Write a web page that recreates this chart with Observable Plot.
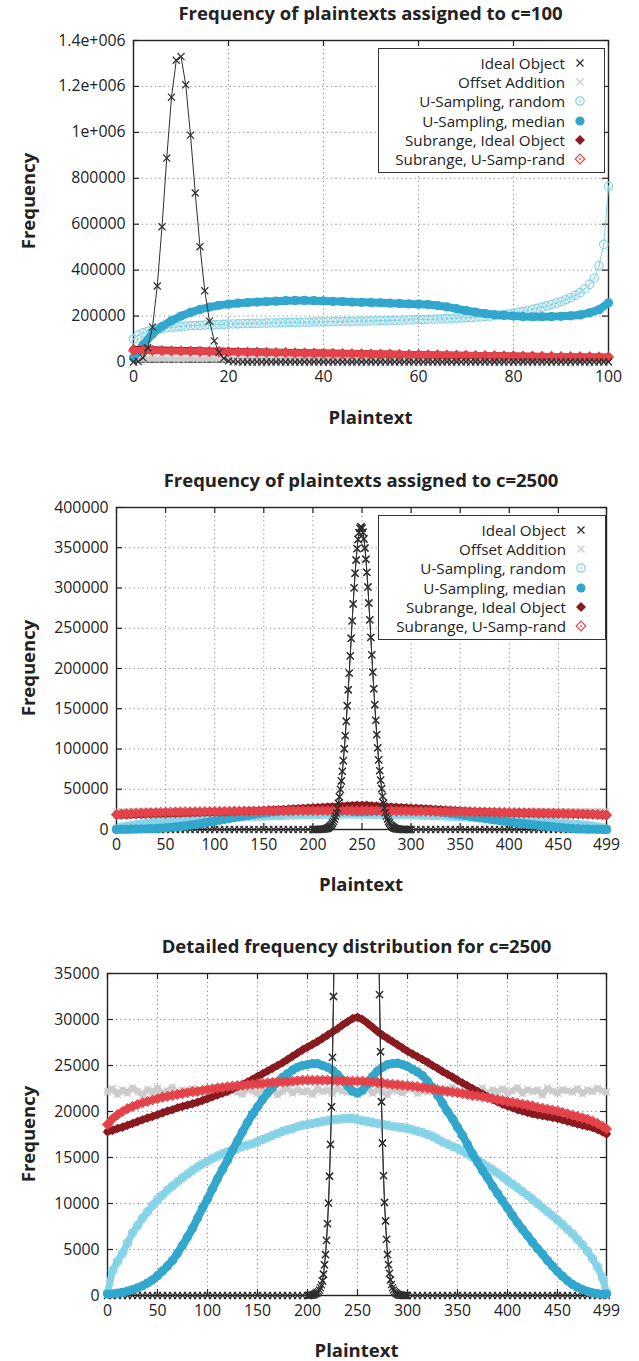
<!DOCTYPE html>
<html>
<head>
<meta charset="utf-8">
<script src="https://cdn.jsdelivr.net/npm/d3@7"></script>
<script src="https://cdn.jsdelivr.net/npm/@observablehq/plot@0.6"></script>
<style>
  body { margin: 0; background: #fff; }
  #root { position: relative; width: 639px; height: 1361px; font-family: "Open Sans", sans-serif; color: #222; overflow: hidden; }
  .title { position: absolute; font-weight: 700; font-size: 18.5px; white-space: nowrap; transform: translate(-50%, -50%); }
  .xlabel { position: absolute; font-weight: 700; font-size: 18.5px; white-space: nowrap; transform: translate(-50%, -50%); }
  .ylabel { position: absolute; font-weight: 700; font-size: 18.5px; white-space: nowrap; transform: translate(-50%, -50%) rotate(-90deg); }
  .legend { position: absolute; background: #fff; border: 1.3px solid #333; box-sizing: border-box; font-size: 15.2px; }
  .lrow { position: absolute; right: 17px; height: 18px; display: flex; align-items: center; white-space: nowrap; }
  .lrow span { display: inline-block; margin-right: 8px; line-height: 18px; height: 18px; overflow: visible; }
  .lrow svg { display: block; }
</style>
</head>
<body>
<div id="root"></div>
<script>
// ---------------- DATA ----------------
const seriesNames = ["Ideal Object", "Offset Addition", "U-Sampling, random", "U-Sampling, median", "Subrange, Ideal Object", "Subrange, U-Samp-rand"];
const seriesColors = ["#2e2e2e", "#cccccc", "#86d3e7", "#32a7cd", "#8a1a1f", "#e4434b"];

const titles = ["Frequency of plaintexts assigned to c=100", "Frequency of plaintexts assigned to c=2500", "Detailed frequency distribution for c=2500"];
const xAxisLabel = "Plaintext";
const yAxisLabel = "Frequency";

// Panel 1 (c=100) ticks
const p1XTicks = [0, 20, 40, 60, 80, 100];
const p1XTickLabels = ["0", "20", "40", "60", "80", "100"];
const p1YTicks = [0, 200000, 400000, 600000, 800000, 1000000, 1200000, 1400000];
const p1YTickLabels = ["0", "200000", "400000", "600000", "800000", "1e+006", "1.2e+006", "1.4e+006"];

// Panel 2/3 ticks
const p2XTicks = [0, 50, 100, 150, 200, 250, 300, 350, 400, 450, 499];
const p2XTickLabels = ["0", "50", "100", "150", "200", "250", "300", "350", "400", "450", "499"];
const p2YTicks = [0, 50000, 100000, 150000, 200000, 250000, 300000, 350000, 400000];
const p2YTickLabels = ["0", "50000", "100000", "150000", "200000", "250000", "300000", "350000", "400000"];
const p3YTicks = [0, 5000, 10000, 15000, 20000, 25000, 30000, 35000];
const p3YTickLabels = ["0", "5000", "10000", "15000", "20000", "25000", "30000", "35000"];

// Panel 1 plaintext positions
const p1X = d3.range(0, 101);      // every plaintext 0..100
const p1X2 = d3.range(0, 101, 2);  // every second plaintext

const p1Ideal = [
  0, 2000, 18000, 62000, 152000, 331000, 589000, 888000, 1153000, 1314000,
  1330000, 1207000, 988000, 736000, 502000, 310000, 178000, 92000, 42000, 16000,
  5000, 1500, 400, 100, 0, 0, 0, 0, 0, 0,
  0, 0, 0, 0, 0, 0, 0, 0, 0, 0,
  0, 0, 0, 0, 0, 0, 0, 0, 0, 0,
  0, 0, 0, 0, 0, 0, 0, 0, 0, 0,
  0, 0, 0, 0, 0, 0, 0, 0, 0, 0,
  0, 0, 0, 0, 0, 0, 0, 0, 0, 0,
  0, 0, 0, 0, 0, 0, 0, 0, 0, 0,
  0, 0, 0, 0, 0, 0, 0, 0, 0, 0,
  0
];
const p1Offset = [
  13500, 12200, 14100, 12800, 13300, 11900, 13800, 12500, 14000, 12700,
  13100, 12100, 13600, 12900, 12300, 13900, 12600, 13200, 11800, 13700,
  12400, 13400, 12000, 14200, 12800, 13000, 12200, 13500, 12600, 13300,
  11900, 13800, 12500, 13100, 12900, 12300, 13600, 12100, 14000, 12700,
  13200, 12400, 13700, 12000, 13400, 12800, 12600, 13900, 12200, 13300,
  12900
];
const p1URandom = [
  100000, 117000, 127000, 134000, 139000, 143000, 146000, 149000, 151000, 153000,
  155000, 156500, 158000, 159000, 160000, 161000, 162000, 162800, 163500, 164200,
  165000, 165600, 166200, 166800, 167400, 168000, 168500, 169000, 169500, 170000,
  170500, 171000, 171500, 172000, 172500, 173000, 173400, 173800, 174200, 174600,
  175000, 175400, 175800, 176200, 176600, 177000, 177400, 177800, 178200, 178600,
  179000, 179500, 180000, 180500, 181000, 181500, 182000, 182600, 183200, 183800,
  184400, 185000, 185700, 186400, 187100, 187900, 188700, 189600, 190500, 191500,
  192600, 193800, 195100, 196500, 198000, 199600, 201500, 204000, 206500, 209000,
  212000, 216000, 220000, 224500, 229000, 234000, 239000, 244500, 250000, 256500,
  263000, 271000, 280000, 290000, 302000, 318000, 338000, 365000, 420000, 512000,
  765000
];
const p1UMedian = [
  18000, 75000, 122000, 155000, 180000, 200000, 216000, 229000, 239000, 247000,
  252000, 256000, 259000, 261000, 263000, 265000, 267000, 268000, 268000, 267000,
  266000, 264000, 263000, 261000, 260000, 259000, 258000, 256000, 255000, 253000,
  252000, 250000, 246000, 240000, 232000, 224000, 217000, 211000, 206000, 203000,
  200000, 198000, 197000, 197000, 198000, 199000, 201000, 205000, 214000, 228000,
  258000
];
const p1SubIdeal = [
  56000, 54500, 53500, 52500, 51500, 50600, 49800, 49000, 48200, 47400,
  46600, 45800, 45000, 44300, 43600, 42900, 42200, 41500, 40800, 40100,
  39400, 38700, 38000, 37300, 36600, 35900, 35200, 34500, 33800, 33100,
  32400, 31700, 31000, 30300, 29700, 29100, 28500, 27900, 27300, 26700,
  26100, 25500, 24900, 24300, 23800, 23300, 22800, 22300, 21800, 21300,
  20800
];
const p1SubRand = [
  50500, 49600, 48900, 48200, 47500, 46900, 46300, 45700, 45100, 44500,
  43900, 43300, 42700, 42100, 41500, 40900, 40300, 39700, 39100, 38500,
  37900, 37300, 36700, 36100, 35500, 34900, 34300, 33700, 33100, 32500,
  31900, 31300, 30700, 30100, 29500, 28900, 28300, 27800, 27300, 26800,
  26300, 25800, 25300, 24800, 24300, 23800, 23400, 23000, 22600, 22300,
  22000
];

// Panel 2/3 (c=2500) plaintext positions
const p2X = [...d3.range(0, 500, 5), 499];
const p2IdealX = [...d3.range(0, 200, 5), ...d3.range(200, 301), ...d3.range(305, 500, 5), 499];

const p2Ideal = [
  // 0..195 step 5
  0, 0, 0, 0, 0, 0, 0, 0, 0, 0, 0, 0, 0, 0, 0, 0, 0, 0, 0, 0,
  0, 0, 0, 0, 0, 0, 0, 0, 0, 0, 0, 0, 0, 0, 0, 0, 0, 0, 0, 0,
  // 200..300 step 1
  0, 0, 10, 20, 40, 60, 90, 130, 190, 270,
  300, 420, 600, 850, 1150, 1600, 2310, 3340, 4450, 5990,
  7810, 10040, 12960, 16420, 20510, 25880, 32500, 40500, 49800, 60300,
  72200, 85500, 100300, 116600, 134400, 153700, 173600, 194300, 215700, 237500,
  259200, 280200, 300100, 318400, 334800, 348900, 360300, 368800, 374100, 376000,
  374300, 369200, 360900, 349700, 335700, 319400, 301200, 281300, 260400, 238700,
  216900, 195500, 174800, 155000, 135600, 117800, 101400, 86500, 73100, 61300,
  50900, 41200, 32700, 26500, 21060, 16570, 13030, 10110, 8100, 6100,
  4450, 3360, 2400, 1700, 1200, 850, 600, 420, 300, 210,
  140, 90, 60, 40, 20, 10, 0, 0, 0, 0, 0,
  // 305..495 step 5, then 499
  0, 0, 0, 0, 0, 0, 0, 0, 0, 0, 0, 0, 0, 0, 0, 0, 0, 0, 0, 0,
  0, 0, 0, 0, 0, 0, 0, 0, 0, 0, 0, 0, 0, 0, 0, 0, 0, 0, 0, 0
];
const p2Offset = [
  22150, 22500, 21850, 22350, 22000, 22600, 22200, 21800, 22400, 22100,
  22550, 21900, 22250, 22650, 21850, 22350, 22150, 22500, 22000, 22250,
  21800, 22400, 22200, 22600, 22000, 22350, 22100, 21850, 22500, 22250,
  21950, 22550, 22150, 22350, 21800, 22200, 22600, 22000, 22400, 22100,
  22250, 21850, 22500, 22150, 22350, 21950, 22550, 22200, 22100, 22400,
  21850, 22250, 22600, 22000, 22350, 22150, 21800, 22500, 22200, 22000,
  22400, 22550, 21950, 22250, 22150, 22350, 21850, 22500, 22100, 22650,
  22200, 21950, 22400, 22250, 22100, 22550, 21850, 22350, 22150, 22500,
  22000, 22250, 22600, 21950, 22400, 22150, 22350, 21800, 22550, 22200,
  22000, 22400, 22250, 22100, 22500, 21950, 22350, 22150, 22550, 22250,
  22100
];
const p2URandom = [
  300, 2700, 3700, 4600, 5700, 6800, 7600, 8400, 9100, 9800,
  10400, 10900, 11450, 11900, 12350, 12800, 13200, 13600, 13950, 14300,
  14600, 14900, 15150, 15400, 15600, 15800, 16000, 16200, 16350, 16500,
  16700, 16950, 17150, 17400, 17600, 17850, 18000, 18150, 18350, 18500,
  18600, 18700, 18800, 18900, 19000, 19100, 19150, 19200, 19250, 19250,
  19100, 19000, 18900, 18800, 18700, 18600, 18500, 18400, 18300, 18250,
  18150, 18000, 17850, 17700, 17500, 17300, 17000, 16700, 16450, 16200,
  16000, 15700, 15400, 15050, 14700, 14350, 14000, 13650, 13300, 12900,
  12500, 12100, 11700, 11300, 10900, 10450, 10000, 9550, 9100, 8650,
  8200, 7700, 7200, 6700, 6100, 5500, 4800, 4000, 3100, 1900,
  300
];
const p2UMedian = [
  150, 180, 250, 350, 480, 640, 830, 1050, 1350, 1700,
  2150, 2650, 3200, 3800, 4600, 5450, 6350, 7300, 8400, 9500,
  10500, 11600, 12700, 13700, 14700, 15800, 16800, 17800, 18800, 19700,
  20500, 21300, 22000, 22600, 23200, 23700, 24100, 24500, 24800, 25000,
  25100, 25200, 25200, 25000, 24800, 24500, 24000, 23400, 22800, 22200,
  22000, 22300, 23000, 23800, 24400, 24800, 25100, 25200, 25250, 25100,
  24900, 24600, 24300, 23900, 23300, 22600, 21800, 20900, 20000, 19200,
  18300, 17400, 16400, 15400, 14500, 13600, 12800, 11900, 11100, 10300,
  9500, 8700, 7900, 7200, 6500, 5800, 5100, 4500, 3800, 3200,
  2600, 2100, 1600, 1200, 900, 650, 450, 300, 200, 150,
  150
];
const p2SubIdeal = [
  17800, 17950, 18150, 18300, 18500, 18700, 18900, 19100, 19300, 19450,
  19650, 19850, 20050, 20200, 20400, 20550, 20700, 20850, 21000, 21200,
  21400, 21600, 21800, 22000, 22200, 22450, 22700, 22950, 23200, 23500,
  23800, 24100, 24400, 24700, 25000, 25300, 25650, 26000, 26350, 26700,
  27000, 27300, 27600, 27950, 28300, 28650, 29000, 29400, 29750, 30100,
  30250, 30000, 29600, 29150, 28700, 28300, 27950, 27600, 27250, 26900,
  26550, 26250, 25950, 25650, 25350, 25000, 24700, 24350, 24050, 23750,
  23400, 23100, 22800, 22500, 22200, 21900, 21600, 21300, 21050, 20800,
  20600, 20400, 20200, 20050, 19900, 19750, 19650, 19550, 19450, 19350,
  19250, 19100, 18950, 18800, 18650, 18500, 18400, 18250, 18050, 17800,
  17550
];
const p2SubRand = [
  18600, 19200, 19650, 20000, 20300, 20550, 20750, 20950, 21100, 21250,
  21400, 21550, 21650, 21750, 21850, 21950, 22050, 22150, 22200, 22300,
  22400, 22450, 22550, 22600, 22700, 22750, 22800, 22850, 22900, 22950,
  23000, 23050, 23100, 23150, 23200, 23200, 23250, 23300, 23350, 23400,
  23400, 23400, 23400, 23400, 23400, 23350, 23350, 23350, 23300, 23300,
  23300, 23300, 23250, 23200, 23150, 23100, 23000, 22950, 22900, 22850,
  22800, 22750, 22700, 22600, 22550, 22450, 22350, 22250, 22200, 22100,
  22050, 21950, 21850, 21750, 21700, 21600, 21500, 21400, 21300, 21200,
  21100, 21000, 20900, 20800, 20700, 20600, 20450, 20350, 20250, 20150,
  20050, 19900, 19750, 19600, 19450, 19300, 19150, 18950, 18700, 18400,
  18100
];

// ---------------- DRAWING ----------------
const root = document.getElementById("root");
const W = 639;
const pts = (xs, ys) => xs.map((x, i) => ({x, y: ys[i]}));

function seriesMarks(defs, ymax) {
  const m = [];
  const inRange = d => d.y <= ymax;
  for (const s of defs) {
    const data = pts(s.x, s.y);
    const col = seriesColors[s.k];
    if (s.k === 0) {
      m.push(Plot.line(data, {x: "x", y: "y", stroke: col, strokeWidth: 1, clip: true}));
      m.push(Plot.dot(data.filter(inRange), {x: "x", y: "y", symbol: "times", r: 3.3, stroke: col, strokeWidth: 1.2}));
    } else if (s.k === 1) {
      m.push(Plot.line(data, {x: "x", y: "y", stroke: col, strokeWidth: s.band}));
      m.push(Plot.dot(data, {x: "x", y: "y", symbol: "times", r: 3.3, stroke: col, strokeWidth: 1.2}));
    } else if (s.k === 2) {
      m.push(Plot.line(data, {x: "x", y: "y", stroke: col, strokeWidth: s.band}));
      m.push(Plot.dot(data, {x: "x", y: "y", symbol: "circle", r: 4.2, stroke: col, fill: "none", strokeWidth: 1.2}));
      m.push(Plot.dot(data, {x: "x", y: "y", r: 0.9, fill: col}));
    } else if (s.k === 3) {
      m.push(Plot.line(data, {x: "x", y: "y", stroke: col, strokeWidth: s.band}));
      m.push(Plot.dot(data, {x: "x", y: "y", r: 4.6, fill: col}));
    } else if (s.k === 4) {
      m.push(Plot.line(data, {x: "x", y: "y", stroke: col, strokeWidth: s.band}));
      m.push(Plot.dot(data, {x: "x", y: "y", symbol: "diamond2", r: 4.3, fill: col}));
    } else {
      m.push(Plot.line(data, {x: "x", y: "y", stroke: col, strokeWidth: s.band}));
      m.push(Plot.dot(data, {x: "x", y: "y", symbol: "diamond2", r: 4.3, stroke: col, fill: "none", strokeWidth: 1.2}));
      m.push(Plot.dot(data, {x: "x", y: "y", r: 0.9, fill: col}));
    }
  }
  return m;
}

function panel(cfg) {
  const innerW = W - cfg.ml - cfg.mr;
  const innerH = cfg.height - cfg.mt - cfg.mb;
  const xLab = new Map(cfg.xTicks.map((t, i) => [t, cfg.xTickLabels[i]]));
  const yLab = new Map(cfg.yTicks.map((t, i) => [t, cfg.yTickLabels[i]]));
  const tickCol = "#222";
  const svg = Plot.plot({
    width: W, height: cfg.height,
    marginTop: cfg.mt, marginBottom: cfg.mb, marginLeft: cfg.ml, marginRight: cfg.mr,
    x: {domain: cfg.xDomain},
    y: {domain: cfg.yDomain},
    style: {fontFamily: '"Open Sans", sans-serif', fontSize: "15.8px", color: "#222", background: "transparent", overflow: "visible"},
    marks: [
      Plot.gridX(cfg.xTicks, {stroke: "#8a8a8a", strokeOpacity: 1, strokeWidth: 1, strokeDasharray: "1.2,3.2"}),
      Plot.gridY(cfg.yTicks, {stroke: "#8a8a8a", strokeOpacity: 1, strokeWidth: 1, strokeDasharray: "1.2,3.2"}),
      Plot.frame({stroke: "#222", strokeWidth: 1.4}),
      Plot.tickX(cfg.xTicks, {x: d => d, insetTop: innerH - 6, stroke: tickCol, strokeWidth: 1.2}),
      Plot.tickX(cfg.xTicks, {x: d => d, insetBottom: innerH - 6, stroke: tickCol, strokeWidth: 1.2}),
      Plot.tickY(cfg.yTicks, {y: d => d, insetRight: innerW - 6, stroke: tickCol, strokeWidth: 1.2}),
      Plot.tickY(cfg.yTicks, {y: d => d, insetLeft: innerW - 6, stroke: tickCol, strokeWidth: 1.2}),
      Plot.axisX(cfg.xTicks, {tickSize: 0, tickPadding: 9, tickFormat: d => xLab.get(d), label: null}),
      Plot.axisY(cfg.yTicks, {tickSize: 0, tickPadding: 8, tickFormat: d => yLab.get(d), label: null}),
      ...seriesMarks(cfg.series, cfg.yDomain[1]),
      ...(cfg.overlayIdeal ? seriesMarks([cfg.overlayIdeal], cfg.yDomain[1]) : [])
    ]
  });
  svg.style.position = "absolute";
  svg.style.left = "0px";
  svg.style.top = cfg.top + "px";
  root.appendChild(svg);

  const cx = cfg.ml + innerW / 2;
  const frameTop = cfg.top + cfg.mt;
  const frameBottom = frameTop + innerH;
  const t = document.createElement("div");
  t.className = "title"; t.textContent = cfg.title;
  t.style.left = cx + "px"; t.style.top = (frameTop - 28) + "px";
  root.appendChild(t);
  const xl = document.createElement("div");
  xl.className = "xlabel"; xl.textContent = xAxisLabel;
  xl.style.left = cx + "px"; xl.style.top = (frameBottom + 54) + "px";
  root.appendChild(xl);
  const yl = document.createElement("div");
  yl.className = "ylabel"; yl.textContent = yAxisLabel;
  yl.style.left = "27px"; yl.style.top = ((frameTop + frameBottom) / 2) + "px";
  root.appendChild(yl);

  if (cfg.legend) legend(cfg.legend);
}

function symbolSvg(k) {
  const c = seriesColors[k];
  let inner;
  if (k <= 1) inner = `<path d="M3.5,3.5L10.5,10.5M3.5,10.5L10.5,3.5" stroke="${c}" stroke-width="1.3"/>`;
  else if (k === 2) inner = `<circle cx="7" cy="7" r="4.2" fill="none" stroke="${c}" stroke-width="1.2"/><circle cx="7" cy="7" r="0.9" fill="${c}"/>`;
  else if (k === 3) inner = `<circle cx="7" cy="7" r="4.6" fill="${c}"/>`;
  else if (k === 4) inner = `<path d="M7,2L12,7L7,12L2,7Z" fill="${c}"/>`;
  else inner = `<path d="M7,2.2L11.8,7L7,11.8L2.2,7Z" fill="none" stroke="${c}" stroke-width="1.2"/><circle cx="7" cy="7" r="0.9" fill="${c}"/>`;
  return `<svg width="14" height="14" viewBox="0 0 14 14">${inner}</svg>`;
}

function legend(L) {
  const box = document.createElement("div");
  box.className = "legend";
  Object.assign(box.style, {left: L.left + "px", top: L.top + "px", width: L.width + "px", height: L.height + "px"});
  seriesNames.forEach((name, i) => {
    const row = document.createElement("div");
    row.className = "lrow";
    row.style.top = (5 + i * 19.2) + "px";
    row.innerHTML = `<span>${name}</span>` + symbolSvg(i);
    box.appendChild(row);
  });
  root.appendChild(box);
}

const bandW = 7;

// Panel 1
panel({
  top: 30, height: 400, mt: 10, mb: 68.5, ml: 133, mr: 31,
  xDomain: [0, 100], yDomain: [0, 1400000],
  xTicks: p1XTicks, xTickLabels: p1XTickLabels, yTicks: p1YTicks, yTickLabels: p1YTickLabels,
  title: titles[0],
  series: [
    {k: 1, x: p1X2, y: p1Offset, band: 5},
    {k: 2, x: p1X, y: p1URandom, band: 1},
    {k: 3, x: p1X2, y: p1UMedian, band: 8},
    {k: 4, x: p1X2, y: p1SubIdeal, band: bandW},
    {k: 5, x: p1X2, y: p1SubRand, band: bandW},
    {k: 0, x: p1X, y: p1Ideal}
  ],
  legend: {left: 378, top: 48, width: 227, height: 125}
});

// Panel 2
panel({
  top: 497, height: 400, mt: 10, mb: 68, ml: 116, mr: 33,
  xDomain: [0, 499], yDomain: [0, 400000],
  xTicks: p2XTicks, xTickLabels: p2XTickLabels, yTicks: p2YTicks, yTickLabels: p2YTickLabels,
  title: titles[1],
  series: [
    {k: 0, x: p2IdealX, y: p2Ideal},
    {k: 1, x: p2X, y: p2Offset, band: 6},
    {k: 2, x: p2X, y: p2URandom, band: bandW},
    {k: 3, x: p2X, y: p2UMedian, band: 8},
    {k: 4, x: p2X, y: p2SubIdeal, band: bandW},
    {k: 5, x: p2X, y: p2SubRand, band: bandW}
  ],
  overlayIdeal: {k: 0, x: p2IdealX.filter((x, i) => p2Ideal[i] >= 1500), y: p2Ideal.filter(v => v >= 1500)},
  legend: {left: 378, top: 515, width: 228, height: 125}
});

// Panel 3
panel({
  top: 963, height: 398, mt: 10, mb: 66, ml: 107, mr: 33,
  xDomain: [0, 499], yDomain: [0, 35000],
  xTicks: p2XTicks, xTickLabels: p2XTickLabels, yTicks: p3YTicks, yTickLabels: p3YTickLabels,
  title: titles[2],
  series: [
    {k: 0, x: p2IdealX, y: p2Ideal},
    {k: 1, x: p2X, y: p2Offset, band: 6},
    {k: 2, x: p2X, y: p2URandom, band: bandW},
    {k: 3, x: p2X, y: p2UMedian, band: 8},
    {k: 4, x: p2X, y: p2SubIdeal, band: bandW},
    {k: 5, x: p2X, y: p2SubRand, band: bandW}
  ],
  overlayIdeal: {k: 0, x: p2IdealX.filter((x, i) => p2Ideal[i] >= 1500), y: p2Ideal.filter(v => v >= 1500)}
});
</script>
</body>
</html>
